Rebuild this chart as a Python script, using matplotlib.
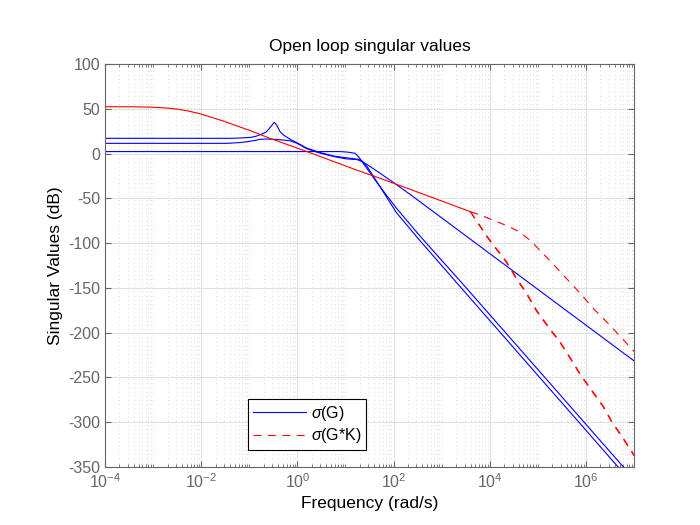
import numpy as np
import matplotlib.pyplot as plt
from matplotlib.ticker import FixedLocator, LogLocator, NullFormatter, LogFormatterSciNotation
from matplotlib.lines import Line2D

plt.rcParams['font.family'] = ['Liberation Sans', 'DejaVu Sans']
plt.rcParams['mathtext.fontset'] = 'custom'
plt.rcParams['mathtext.rm'] = 'Liberation Sans'
plt.rcParams['mathtext.it'] = 'Liberation Sans:italic'
plt.rcParams['axes.unicode_minus'] = False

# singular values of G (log10 of frequency, dB)
g1_lw = [-4, -1.35, -1.1, -0.95, -0.85, -0.75, -0.64, -0.54, -0.48, -0.43, -0.36, -0.29, -0.15, -0.01,
         0.19, 0.47, 0.75, 1.0, 1.2, 1.35, 1.5, 1.72, 2.03, 2.41, 7.0]
g1_db = [17.0, 17.0, 17.6, 18.2, 19.5, 21.5, 24.4, 30.8, 34.9, 31.9, 24.4, 20.8, 15.9, 12.1,
         6.2, 1.2, -2.7, -4.6, -6.0, -9.0, -14.0, -22.0, -33.5, -48.2, -231.5]

g2_lw = [-4, -1.47, -1.2, -1.0, -0.85, -0.78, -0.64, -0.45, -0.29, -0.15, -0.01, 0.19, 0.47, 0.75,
         1.0, 1.15, 1.27, 1.35, 1.45, 1.6, 1.8, 2.06, 2.55, 3.415, 6.67, 7.0]
g2_db = [11.4, 11.4, 12.2, 13.6, 15.0, 15.9, 16.2, 15.8, 15.1, 14.2, 11.5, 5.5, 0.5, -3.3,
         -5.8, -6.5, -6.3, -8.5, -14.5, -27.0, -44.0, -66.0, -97.3, -150.5, -350.0, -370.0]

g3_lw = [-4, 0.88, 1.05, 1.2, 1.28, 1.37, 1.51, 1.65, 1.86, 2.06, 2.55, 3.52, 6.78, 7.0]
g3_db = [2.2, 2.2, 1.6, 0.3, -4.0, -10.9, -21.5, -32.0, -47.0, -61.0, -92.1, -150.5, -350.0, -363.5]

# singular values of G*K: shared low-frequency part, then branches
gk_lw = [-4, -3.4, -3.1, -2.85, -2.65, -2.45, -2.25, -2.05, -1.8, -1.55, -1.0, -0.57, 0.26, 1.23, 1.72,
         2.5, 3.0, 3.6]
gk_db = [52.3, 52.2, 51.9, 51.3, 50.5, 49.2, 47.3, 44.8, 40.7, 36.5, 26.0, 17.0, 1.0, -18.4, -27.6,
         -43.0, -53.0, -65.0]

gk1_lw = [3.6, 3.8, 4.1, 4.4, 4.6, 4.75, 4.9, 5.05, 5.25, 5.56, 5.88, 6.15, 6.46, 6.78, 7.0]
gk1_db = [-65.0, -68.6, -75.0, -81.5, -87.0, -93.0, -100.0, -108.5, -119.5, -137.5, -156.0, -172.8,
          -189.5, -208.0, -221.0]

gk2_lw = [3.6, 3.69, 3.86, 3.94, 4.11, 4.35, 4.56, 4.77, 4.97, 5.22, 5.46, 5.67, 5.88,
          6.12, 6.36, 6.53, 6.78, 6.98, 7.0]
gk2_db = [-65.0, -72.0, -85.3, -92.0, -104.0, -120.7, -139.3, -156.0, -174.7, -193.3, -210.0, -227.5,
          -246.0, -264.0, -281.9, -298.3, -318.0, -334.7, -336.5]
gk3_db = [-65.0, -72.8, -86.3, -93.0, -105.0, -121.7, -140.3, -157.0, -175.7, -194.3, -211.0, -228.5,
          -247.0, -265.0, -282.9, -299.3, -319.0, -335.7, -337.5]

fig = plt.figure(figsize=(7, 5.25), dpi=100)
ax = fig.add_axes([0.15, 0.1105, 0.7557, 0.7676])

lw = 0.8
dash = (7, 6)
for x, y in [(g1_lw, g1_db), (g2_lw, g2_db), (g3_lw, g3_db)]:
    ax.plot(10.0 ** np.array(x), y, color='#0000ff', lw=lw)
ax.plot(10.0 ** np.array(gk_lw), gk_db, color='#ff0000', lw=lw)
ax.plot(10.0 ** np.array(gk1_lw), gk1_db, color='#ff0000', lw=lw, dashes=dash)
ax.plot(10.0 ** np.array(gk2_lw), gk2_db, color='#ff0000', lw=lw, dashes=dash)
ax.plot(10.0 ** np.array(gk2_lw), gk3_db, color='#ff0000', lw=lw, dashes=dash)

ax.set_xscale('log')
ax.set_xlim(1e-4, 1e7)
ax.set_ylim(-350, 100)
ax.xaxis.set_major_locator(FixedLocator([1e-4, 1e-2, 1e0, 1e2, 1e4, 1e6]))
ax.xaxis.set_major_formatter(LogFormatterSciNotation())
ax.xaxis.set_minor_locator(LogLocator(base=10, subs=np.arange(1, 10), numticks=100))
ax.xaxis.set_minor_formatter(NullFormatter())
ax.set_yticks(np.arange(-350, 101, 50))

ax.grid(True, which='major', color='#e0e0e0', lw=0.7, ls='-')
ax.grid(True, which='minor', axis='x', color='#cccccc', lw=0.6, ls=(0, (1, 4)))
ax.set_axisbelow(True)

gray = '#666666'
for s in ax.spines.values():
    s.set_color(gray)
    s.set_linewidth(0.8)
ax.tick_params(which='both', direction='in', top=True, right=True, colors=gray, labelsize=11.5)
ax.tick_params(which='major', length=4)
ax.tick_params(which='minor', length=2)

ax.set_title('Open loop singular values', fontsize=12.5, pad=9, color='black')
ax.set_xlabel('Frequency (rad/s)', fontsize=12.5, color='black')
ax.set_ylabel('Singular Values (dB)', fontsize=12.5, color='black')

handles = [Line2D([], [], color='#0000ff', lw=lw),
           Line2D([], [], color='#ff0000', lw=lw, dashes=dash)]
leg = ax.legend(handles, [r'$\sigma$(G)', r'$\sigma$(G*K)'], loc='lower left',
                bbox_to_anchor=(0.271, 0.042), fontsize=11.5, fancybox=False,
                edgecolor='black', framealpha=1, borderpad=0.3, handlelength=3.3,
                handletextpad=0.3, labelspacing=0.2, borderaxespad=0)
leg.get_frame().set_linewidth(0.8)

fig.savefig('out.png', dpi=100)
